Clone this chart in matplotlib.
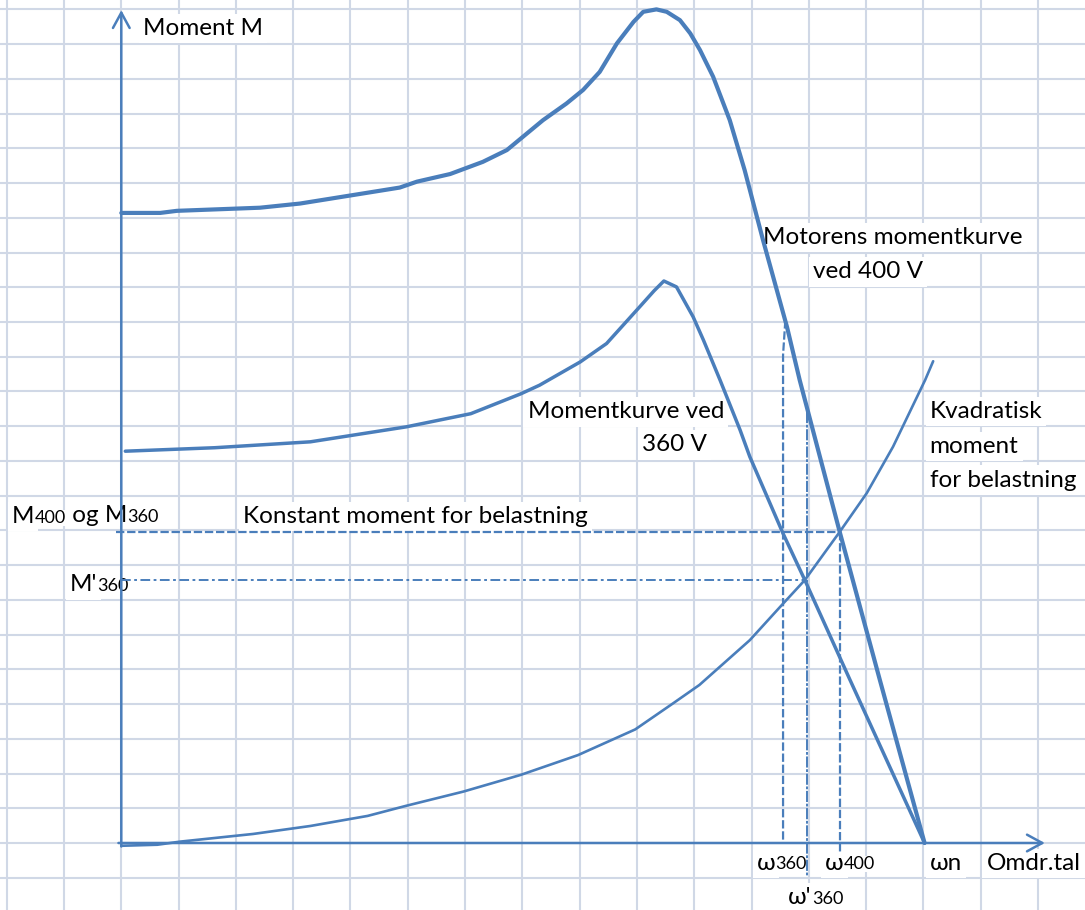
import matplotlib.pyplot as plt

plt.rcParams['font.family'] = ['Lato', 'DejaVu Sans']
plt.rcParams['lines.scale_dashes'] = False

# all values in grid cells: x = speed (omdr.tal), y = torque (moment)
m400_x = [0, 0.68, 0.97, 2.42, 3.12, 3.99, 4.86, 5.16, 5.74, 6.31, 6.73, 7.36, 7.77,
          8.06, 8.35, 8.65, 8.94, 9.11, 9.34, 9.52, 9.75, 9.93, 10.10, 10.33, 10.62,
          10.88, 11.2, 11.62, 11.84, 12.54, 13.24, 14.02]
m400_y = [18.14, 18.14, 18.20, 18.29, 18.41, 18.64, 18.87, 19.04, 19.26, 19.61, 19.95,
          20.81, 21.29, 21.68, 22.20, 23.02, 23.64, 23.93, 24.0, 23.93, 23.69, 23.31,
          22.83, 22.06, 20.81, 19.37, 17.36, 14.85, 13.33, 8.95, 4.69, 0]

m360_x = [0.07, 1.63, 3.30, 4.97, 6.10, 6.97, 7.30, 8.01, 8.47, 9.05, 9.30, 9.47, 9.69,
          9.98, 10.16, 10.45, 10.80, 10.97, 11.55, 11.93, 12.72, 14.02]
m360_y = [11.28, 11.38, 11.55, 11.98, 12.36, 12.93, 13.18, 13.85, 14.38, 15.44, 15.90,
          16.18, 16.01, 15.15, 14.48, 13.33, 11.89, 11.12, 8.91, 7.57, 4.69, 0]

quad_x = [0, 0.63, 1.03, 2.30, 3.30, 4.30, 4.97, 5.97, 6.97, 7.97, 8.97, 9.63, 10.09,
          10.97, 11.50, 11.93, 12.54, 13.01, 13.47, 14.03, 14.17]
quad_y = [-0.08, -0.05, 0.04, 0.26, 0.49, 0.78, 1.07, 1.48, 1.96, 2.53, 3.27, 4.02,
          4.55, 5.84, 6.80, 7.57, 8.96, 10.07, 11.41, 13.33, 13.87]

m_load = 8.95        # konstant moment
m_dash360 = 7.57     # M'360
w360 = 11.55
w360_top = 15.05
w_dash360 = 11.97
w_dash360_top = 12.41
w400 = 12.54

blue = '#4a7ebb'
gridc = '#d0d8e6'

fig = plt.figure(figsize=(10.85, 9.10), dpi=100)
ax = fig.add_axes([0, 0, 1, 1])
ax.set_xlim(-2.117, 16.82)
ax.set_ylim(-1.929, 24.27)
ax.axis('off')

for gx in range(-2, 17):
    ax.axvline(gx, color=gridc, lw=1.5, zorder=0)
for gy in range(-1, 25):
    ax.axhline(gy, color=gridc, lw=1.5, zorder=0)

box = dict(facecolor='white', edgecolor='none', pad=3)
fs = 17.5
small = 13


def label(x, y, s, **kw):
    return ax.text(x, y, s, fontsize=fs, ha='left', va='center', bbox=box, zorder=2, **kw)


def label_sub(x, y, parts):
    # parts: list of (text, is_small) pieces placed one after the other on one baseline
    t = label(x, y, parts[0][0])
    for s, is_small in parts[1:]:
        size = small if is_small else fs
        t = ax.annotate(s, xy=(1, 0), xycoords=t, xytext=(0, (fs - size) * 0.22),
                        textcoords='offset points', ha='left', va='bottom',
                        fontsize=size, bbox=dict(facecolor='white', edgecolor='none', pad=0),
                        zorder=2)
    return t


label(0.38, 23.46, 'Moment M')
label(11.20, 17.44, 'Motorens momentkurve')
label(12.07, 16.44, 'ved 400 V')
label(7.09, 12.41, 'Momentkurve ved')
label(9.09, 11.46, '360 V')
label(14.11, 12.42, 'Kvadratisk')
label(14.11, 11.41, 'moment')
label(14.11, 10.45, 'for belastning')
label(2.12, 9.41, 'Konstant moment for belastning')
label_sub(-1.91, 9.39, [('M', False), ('400', True), (' og M', False), ('360', True)])
label_sub(-0.90, 7.43, [("M'", False), ('360', True)])
label_sub(11.09, -0.58, [('ω', False), ('360', True)])
label_sub(12.28, -0.58, [('ω', False), ('400', True)])
label(14.11, -0.58, 'ωn')
label(15.10, -0.58, 'Omdr.tal')
label_sub(11.64, -1.58, [("ω'", False), ('360', True)])

# helper lines
ax.plot([-0.1, w400], [m_load, m_load], color=blue, lw=1.6, dashes=(6, 2), zorder=3)
ax.plot([0, 11.93], [m_dash360, m_dash360], color=blue, lw=1.4,
        dashes=(7, 2.5, 2, 2.5), zorder=3)
ax.plot([w360 + 0.04, w360, w360], [w360_top, w360_top - 1, 0], color=blue, lw=1.6,
        dashes=(6, 2), zorder=3)
ax.plot([w400, w400], [m_load, -0.3], color=blue, lw=1.6, dashes=(6, 2), zorder=3)
ax.plot([w_dash360, w_dash360], [w_dash360_top, -0.97], color=blue, lw=1.4,
        dashes=(8, 1.2, 2, 1.2), zorder=3)

# curves
ax.plot(m400_x, m400_y, color=blue, lw=3.0, solid_joinstyle='round',
        solid_capstyle='round', zorder=4)
ax.plot(m360_x, m360_y, color=blue, lw=2.5, solid_joinstyle='round',
        solid_capstyle='round', zorder=4)
ax.plot(quad_x, quad_y, color=blue, lw=1.9, solid_joinstyle='round',
        solid_capstyle='round', zorder=4)

# axes with open arrow heads
arrow = dict(arrowstyle='->,head_length=1.1,head_width=0.6', color=blue, lw=1.8,
             shrinkA=0, shrinkB=0)
ax.annotate('', xy=(0, 23.98), xytext=(0, -0.1), arrowprops=arrow, zorder=5)
ax.annotate('', xy=(16.12, 0), xytext=(-0.05, 0), arrowprops=arrow, zorder=5)

fig.savefig('out.png', dpi=100)
